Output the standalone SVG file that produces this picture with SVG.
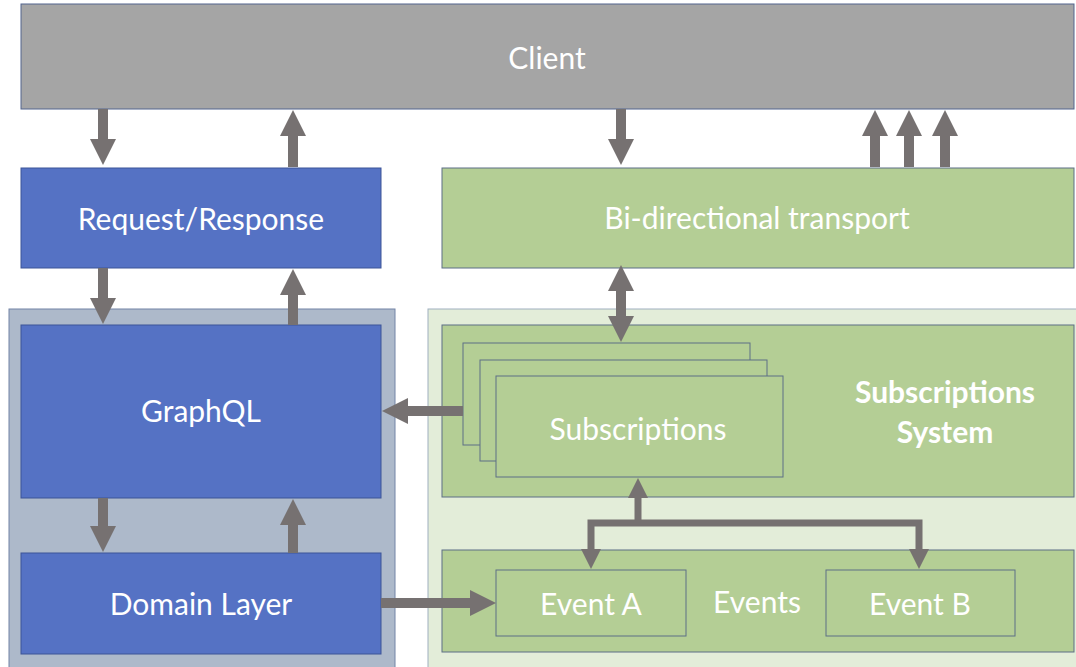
<svg xmlns="http://www.w3.org/2000/svg" width="1076" height="667" viewBox="0 0 1076 667">
  <style>
    .lbl { font-family: Lato, "Liberation Sans", sans-serif; font-size: 30px; fill: #ffffff; text-anchor: middle; dominant-baseline: central; }
    .bold { font-weight: bold; }
    .client { fill: #a5a5a5; stroke: #52648e; stroke-width: 1; }
    .blue { fill: #5572c4; stroke: #3d5597; stroke-width: 1; }
    .green { fill: #b4ce95; stroke: #5d6f86; stroke-width: 1; }
    .grp-blue { fill: #adb9ca; stroke: #7384a6; stroke-width: 1; }
    .grp-green { fill: #e3edd9; stroke: #9fb0c0; stroke-width: 1; }
    .conn { fill: none; stroke: #767171; stroke-width: 10; stroke-linejoin: miter; }
    .conn-thin { fill: none; stroke: #767171; stroke-width: 7; stroke-linejoin: miter; }
  </style>
  <defs>
    <marker id="head" markerUnits="userSpaceOnUse" markerWidth="26" markerHeight="26" refX="0" refY="13" orient="auto-start-reverse" overflow="visible">
      <path d="M0,0 L26,13 L0,26 Z" fill="#767171"/>
    </marker>
    <marker id="head-sm" markerUnits="userSpaceOnUse" markerWidth="20" markerHeight="20" refX="0" refY="10" orient="auto-start-reverse" overflow="visible">
      <path d="M0,0 L20,10 L0,20 Z" fill="#767171"/>
    </marker>
  </defs>

  <rect width="1076" height="667" fill="#ffffff"/>

  <!-- grouping backgrounds -->
  <g id="server-group">
    <rect class="grp-blue" x="9" y="309" width="386" height="370"/>
  </g>
  <g id="subscription-group">
    <rect class="grp-green" x="428" y="309" width="660" height="370"/>
  </g>

  <g id="client">
    <rect class="client" x="21" y="4" width="1053" height="105"/>
    <text class="lbl" x="547" y="57">Client</text>
  </g>

  <g id="request-response">
    <rect class="blue" x="21" y="168" width="360" height="100"/>
    <text class="lbl" x="201" y="218">Request/Response</text>
  </g>

  <g id="graphql">
    <rect class="blue" x="21" y="325" width="360" height="173"/>
    <text class="lbl" x="201" y="410">GraphQL</text>
  </g>

  <g id="domain-layer">
    <rect class="blue" x="21" y="553" width="360" height="101"/>
    <text class="lbl" x="201" y="603">Domain Layer</text>
  </g>

  <g id="transport">
    <rect class="green" x="442" y="168" width="632" height="100"/>
    <text class="lbl" x="757" y="217">Bi-directional transport</text>
  </g>

  <g id="subscriptions-system">
    <rect class="green" x="442" y="325" width="632" height="172"/>
    <text class="lbl bold" x="945" y="391">Subscriptions</text>
    <text class="lbl bold" x="945" y="431">System</text>
  </g>

  <g id="subscriptions">
    <rect class="green" x="463" y="343" width="287" height="102"/>
    <rect class="green" x="480" y="360" width="287" height="101"/>
    <rect class="green" x="496" y="376" width="287" height="101"/>
    <text class="lbl" x="638" y="428">Subscriptions</text>
  </g>

  <g id="events">
    <rect class="green" x="442" y="550" width="632" height="102"/>
    <text class="lbl" x="757" y="601">Events</text>
  </g>

  <g id="event-a">
    <rect class="green" x="496" y="570" width="190" height="66"/>
    <text class="lbl" x="591" y="603">Event A</text>
  </g>

  <g id="event-b">
    <rect class="green" x="826" y="570" width="189" height="66"/>
    <text class="lbl" x="920" y="603">Event B</text>
  </g>

  <g id="connectors">
    <!-- request / response path -->
    <path class="conn" d="M103,109 L103,139" marker-end="url(#head)"/>
    <path class="conn" d="M293,167 L293,136" marker-end="url(#head)"/>
    <path class="conn" d="M103,268 L103,298" marker-end="url(#head)"/>
    <path class="conn" d="M293,325 L293,295" marker-end="url(#head)"/>
    <path class="conn" d="M103,498 L103,526" marker-end="url(#head)"/>
    <path class="conn" d="M293,553 L293,525" marker-end="url(#head)"/>
    <!-- subscription path -->
    <path class="conn" d="M621,109 L621,139" marker-end="url(#head)"/>
    <path class="conn" d="M875,167 L875,136" marker-end="url(#head)"/>
    <path class="conn" d="M909,167 L909,136" marker-end="url(#head)"/>
    <path class="conn" d="M945,167 L945,136" marker-end="url(#head)"/>
    <path class="conn" d="M621,291 L621,316" marker-start="url(#head)" marker-end="url(#head)"/>
    <path class="conn" d="M463,411 L408,411" marker-end="url(#head)"/>
    <path class="conn" d="M381,603 L470,603" marker-end="url(#head)"/>
    <!-- event fan-out -->
    <path class="conn-thin" d="M638,523 L638,498" marker-end="url(#head-sm)"/>
    <path class="conn-thin" d="M591,549 L591,523 L919,523 L919,549" marker-start="url(#head-sm)" marker-end="url(#head-sm)"/>
  </g>
</svg>
